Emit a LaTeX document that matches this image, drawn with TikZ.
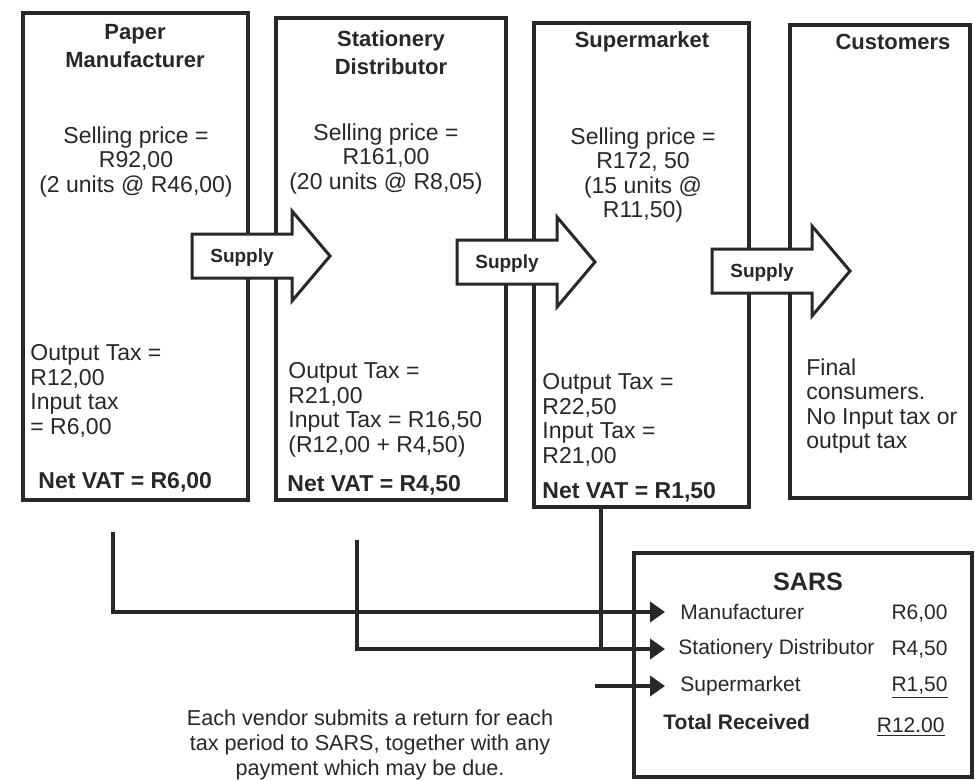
\documentclass[tikz,border=0pt]{standalone}
\usepackage{fontspec}
\setmainfont{Liberation Sans}
\usetikzlibrary{arrows.meta}
\definecolor{ink}{RGB}{40,40,40}

\begin{document}
\begin{tikzpicture}[x=0.5pt,y=-0.5pt,
    every node/.style={text=ink,inner sep=0pt},
    stage/.style={draw=ink,line width=2pt,fill=white},
    stagetitle/.style={font=\fontsize{11}{14}\selectfont\bfseries,align=center},
    stagetext/.style={font=\fontsize{11.5}{12.3}\selectfont},
    netvat/.style={font=\fontsize{11.5}{13}\selectfont\bfseries},
    supplyarrow/.style={draw=ink,line width=1.5pt,fill=white,line join=miter},
    supplylabel/.style={font=\fontsize{9.5}{11}\selectfont\bfseries},
    sarsrow/.style={font=\fontsize{10.5}{12}\selectfont},
    vatline/.style={draw=ink,line width=2pt,-{Triangle[length=7.5pt,width=10pt]}}]
    \path[use as bounding box,fill=white] (0,0) rectangle (975,781);

    % the four stages
    \node[stage,minimum width=112.5pt,minimum height=243.5pt] (pm) at (135.5,256.5) {};
    \node[stage,minimum width=115pt,minimum height=241pt] (sd) at (391,259) {};
    \node[stage,minimum width=107.5pt,minimum height=242pt] (sm) at (641.5,265) {};
    \node[stage,minimum width=90pt,minimum height=236.5pt] (cu) at (880,261.5) {};

    \node[stagetitle] (pmtitle) at (135,46) {Paper\\Manufacturer};
    \node[stagetitle] (sdtitle) at (391,53) {Stationery\\Distributor};
    \node[stagetitle] (smtitle) at (642,42) {Supermarket};
    \node[stagetitle] (cutitle) at (893,42) {Customers};

    \node[stagetext,align=center] (pmprice) at (136,162) {Selling price =\\R92,00\\(2 units @ R46,00)};
    \node[stagetext,align=center] (sdprice) at (386,159) {Selling price =\\R161,00\\(20 units @ R8,05)};
    \node[stagetext,align=center] (smprice) at (643,175) {Selling price =\\R172, 50\\(15 units @\\R11,50)};

    \node[stagetext,align=left,anchor=west] (pmtax) at (30,391) {Output Tax =\\R12,00\\Input tax\\= R6,00};
    \node[stagetext,align=left,anchor=west] (sdtax) at (288,410) {Output Tax =\\R21,00\\Input Tax = R16,50\\(R12,00 + R4,50)};
    \node[stagetext,align=left,anchor=west] (smtax) at (542,420) {Output Tax =\\R22,50\\Input Tax =\\R21,00};
    \node[stagetext,align=left,anchor=west] (cunote) at (806,406) {Final\\consumers.\\No Input tax or\\output tax};

    \node[netvat,anchor=west] (pmnet) at (38,482) {Net VAT = R6,00};
    \node[netvat,anchor=west] (sdnet) at (287,485) {Net VAT = R4,50};
    \node[netvat,anchor=west] (smnet) at (542,492) {Net VAT = R1,50};

    % supply arrows over the box edges
    \foreach \x/\y [count=\i] in {192/256,457/262,712/271}{
        \draw[supplyarrow] (\x,\y-22) -- (\x+100,\y-22) -- (\x+100,\y-45) -- (\x+138,\y)
            -- (\x+100,\y+45) -- (\x+100,\y+22) -- (\x,\y+22) -- cycle;
        \node[supplylabel] (supply\i) at (\x+50,\y+2) {Supply};
    }

    % SARS
    \node[stage,minimum width=169pt,minimum height=112pt] (sars) at (803,665) {};
    \node[font=\fontsize{12.6}{14}\selectfont\bfseries] (sarstitle) at (808,582) {SARS};
    \node[sarsrow,anchor=west] (rowman) at (680,612) {Manufacturer};
    \node[sarsrow,anchor=west] (rowdist) at (678,649) {Stationery Distributor};
    \node[sarsrow,anchor=west] (rowsup) at (680,686) {Supermarket};
    \node[sarsrow,font=\fontsize{10.5}{12}\selectfont\bfseries,anchor=west] (rowtot) at (663,722) {Total Received};
    \node[sarsrow,anchor=east] (valman) at (948,614) {R6,00};
    \node[sarsrow,anchor=east] (valdist) at (948,650) {R4,50};
    \node[sarsrow,anchor=east] (valsup) at (948,688) {\underline{R1,50}};
    \node[sarsrow,anchor=east] (valtot) at (945,727) {\underline{R12.00}};

    % returns to SARS
    \coordinate (pmret) at (113,532);
    \coordinate (sdret) at (357,540);
    \coordinate (smdrop) at (601,648);
    \coordinate (smret) at (595,686);
    \draw[vatline,shorten >=7.5pt] (pmret) |- (rowman.west);
    \draw[vatline,shorten >=6.5pt] (sdret) |- (rowdist.west);
    \draw[vatline,-] (sm.south -| smdrop) -- (smdrop);
    \draw[vatline,shorten >=7.5pt] (smret) -- (rowsup.west);

    \node[font=\fontsize{10.8}{12.5}\selectfont,align=center] (note) at (370,745)
        {Each vendor submits a return for each\\tax period to SARS, together with any\\payment which may be due.};
\end{tikzpicture}
\end{document}
